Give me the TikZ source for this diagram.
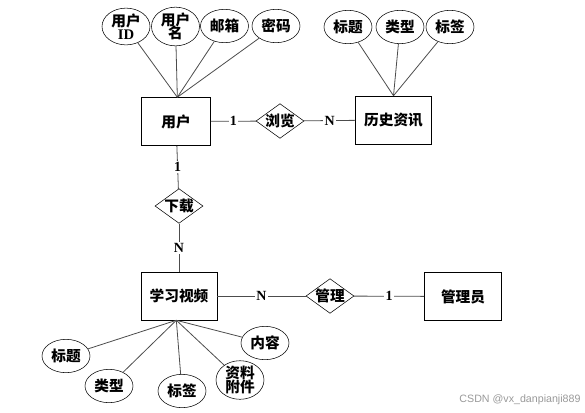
\documentclass[tikz,border=0pt]{standalone}
\usepackage{fontspec}
\setmainfont{Liberation Serif}
\newfontfamily\cjk{Noto Sans CJK SC}
\usetikzlibrary{shapes.geometric}

\begin{document}
\begin{tikzpicture}[x=0.75pt, y=-0.75pt,
  entity/.style={draw, minimum width=57pt, minimum height=36pt, inner sep=0pt},
  attr/.style={draw, ellipse, minimum width=36pt, minimum height=25pt, inner sep=0pt, align=center},
  rel/.style={draw, diamond, minimum width=36pt, minimum height=26pt, inner sep=0pt},
  card/.style={fill=white, inner sep=1pt, font=\bfseries\fontsize{10.5}{11}\selectfont},
  conn/.style={draw=black!70, line width=0.6pt}]

\useasboundingbox (0,0) rectangle (585,412);
\tikzset{every node/.append style={font=\cjk\bfseries\fontsize{11}{11.5}\selectfont}}

% Entities
\node[entity, minimum width=52pt] (user) at (176,121.5) {用户};
\node[entity] (history) at (393.5,120) {历史资讯};
\node[entity] (video) at (179,296) {学习视频};
\node[entity, minimum width=58pt] (admin) at (463,296.5) {管理员};

% Relationships
\node[rel] (browse) at (280,121) {\makebox[0pt]{浏览}};
\node[rel] (download) at (179,206) {\makebox[0pt]{下载}};
\node[rel] (manage) at (330,296) {\makebox[0pt]{管理}};

% Attributes of user
\node[attr] (uid) at (126,26.5) {用户\\[-1.5pt]{\rmfamily ID}};
\node[attr] (uname) at (175.5,26.5) {用户\\[-1.5pt]名};
\node[attr] (umail) at (224.5,26) {邮箱};
\node[attr] (upwd) at (276,26) {密码};

% Attributes of history
\node[attr] (htitle) at (348,27) {标题};
\node[attr] (htype) at (400,27) {类型};
\node[attr] (htag) at (450,27) {标签};

% Attributes of video
\node[attr] (vtitle) at (66,356) {标题};
\node[attr] (vtype) at (109,386) {类型};
\node[attr] (vtag) at (182,391) {标签};
\node[attr] (vfile) at (240,380) {资料\\[-1.5pt]附件};
\node[attr] (vtext) at (265,343) {内容};

% Attribute lines
\foreach \a in {uid,uname,umail,upwd}
  \draw[conn] (\a) -- ([xshift=1pt]user.north);
\foreach \a in {htitle,htype,htag}
  \draw[conn] (\a) -- (history.north);
\foreach \a in {vtitle,vtype,vtag,vfile,vtext}
  \draw[conn] (\a) -- ([xshift=-2pt]video.south);

% Relationship lines with cardinalities
\draw[conn] (user) -- node[card] {1} (browse);
\draw[conn] (browse) -- node[card] {N} (history);
\draw[conn] (user) -- node[card] {1} (download);
\draw[conn] (download) -- node[card] {N} (video);
\draw[conn] (video) -- node[card] {N} (manage);
\draw[conn] (manage) -- node[card] {1} (admin);

% Watermark
\node[text=black!40, font=\fontspec{Liberation Sans}\fontsize{8}{9}\selectfont] (wm) at (520,400) {CSDN @vx\_danpianji889};

\end{tikzpicture}
\end{document}
